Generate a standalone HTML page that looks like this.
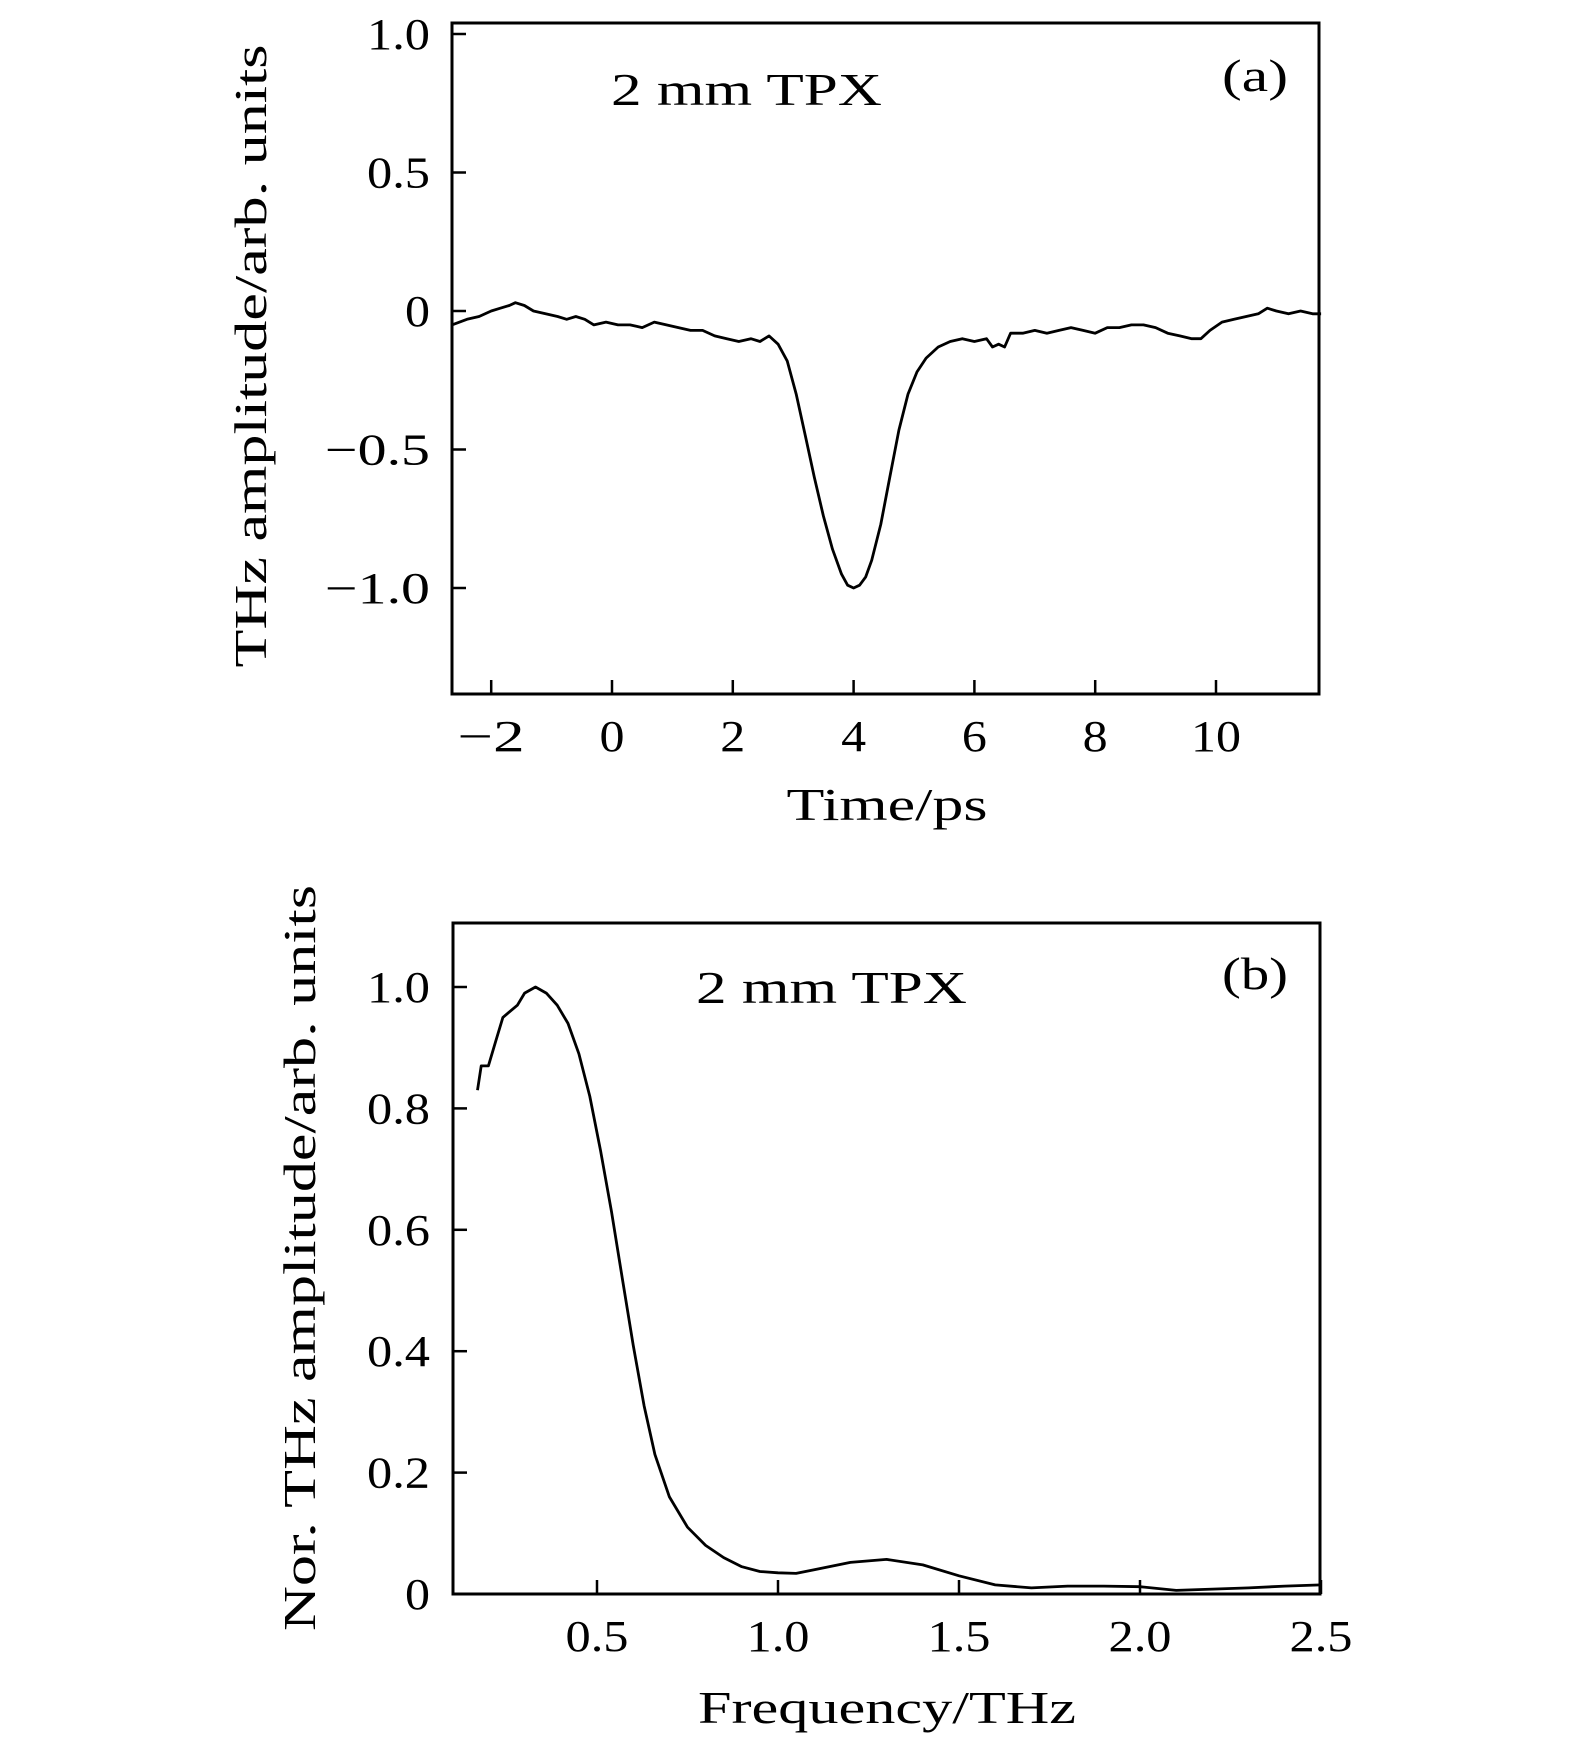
<!DOCTYPE html>
<html><head><meta charset="utf-8">
<style>
html,body{margin:0;padding:0;background:#fff;}
svg{display:block;}
text{font-family:"Liberation Serif",serif;fill:#000;}
</style></head>
<body>
<svg id="chart" width="1575" height="1742" viewBox="0 0 1575 1742" xmlns="http://www.w3.org/2000/svg">
<g id="pa"></g>
<g id="pb"></g>
</svg>
<script>
// Panel (a) data: time-domain waveform
const timeValues = [-2.65,-2.4,-2.2,-2.0,-1.85,-1.7,-1.6,-1.45,-1.3,-1.1,-0.9,-0.75,-0.6,-0.45,-0.3,-0.1,0.1,0.3,0.5,0.7,0.9,1.1,1.3,1.5,1.7,1.9,2.1,2.3,2.45,2.6,2.75,2.9,3.05,3.2,3.35,3.5,3.65,3.8,3.9,4.0,4.1,4.2,4.3,4.45,4.6,4.75,4.9,5.05,5.2,5.4,5.6,5.8,6.0,6.2,6.3,6.4,6.5,6.6,6.8,7.0,7.2,7.4,7.6,7.8,8.0,8.2,8.4,8.6,8.8,9.0,9.2,9.4,9.6,9.75,9.9,10.1,10.3,10.5,10.7,10.85,11.0,11.2,11.4,11.6,11.74];
const ampValues = [-0.05,-0.03,-0.02,0.0,0.01,0.02,0.03,0.02,0.0,-0.01,-0.02,-0.03,-0.02,-0.03,-0.05,-0.04,-0.05,-0.05,-0.06,-0.04,-0.05,-0.06,-0.07,-0.07,-0.09,-0.1,-0.11,-0.1,-0.11,-0.09,-0.12,-0.18,-0.3,-0.45,-0.6,-0.74,-0.86,-0.95,-0.99,-1.0,-0.99,-0.96,-0.9,-0.77,-0.6,-0.43,-0.3,-0.22,-0.17,-0.13,-0.11,-0.1,-0.11,-0.1,-0.13,-0.12,-0.13,-0.08,-0.08,-0.07,-0.08,-0.07,-0.06,-0.07,-0.08,-0.06,-0.06,-0.05,-0.05,-0.06,-0.08,-0.09,-0.1,-0.1,-0.07,-0.04,-0.03,-0.02,-0.01,0.01,0.0,-0.01,0.0,-0.01,-0.01];
const aXTicks = [-2,0,2,4,6,8,10];
const aXLabels = ["\u22122","0","2","4","6","8","10"];
const aYTicks = [1.0,0.5,0,-0.5,-1.0];
const aYLabels = ["1.0","0.5","0","\u22120.5","\u22121.0"];

// Panel (b) data: normalized spectrum
const freqValues = [0.17,0.18,0.2,0.22,0.24,0.26,0.28,0.3,0.33,0.36,0.39,0.42,0.45,0.48,0.51,0.54,0.57,0.6,0.63,0.66,0.7,0.75,0.8,0.85,0.9,0.95,1.0,1.05,1.1,1.2,1.3,1.4,1.5,1.6,1.7,1.8,1.9,2.0,2.1,2.2,2.3,2.4,2.5];
const specValues = [0.83,0.87,0.87,0.91,0.95,0.96,0.97,0.99,1.0,0.99,0.97,0.94,0.89,0.82,0.73,0.63,0.52,0.41,0.31,0.23,0.16,0.11,0.08,0.06,0.045,0.037,0.035,0.034,0.04,0.052,0.057,0.048,0.03,0.015,0.01,0.013,0.013,0.012,0.006,0.008,0.01,0.013,0.015];
const bXTicks = [0.5,1.0,1.5,2.0,2.5];
const bXLabels = ["0.5","1.0","1.5","2.0","2.5"];
const bYTicks = [0,0.2,0.4,0.6,0.8,1.0];
const bYLabels = ["0","0.2","0.4","0.6","0.8","1.0"];

const NS = "http://www.w3.org/2000/svg";
function mk(parent, tag, attrs, text){
  const e = document.createElementNS(NS, tag);
  for (const k in attrs) e.setAttribute(k, attrs[k]);
  if (text !== undefined) e.textContent = text;
  parent.appendChild(e);
  return e;
}
function labelWidth(s){
  let w = 0;
  for (const c of s) w += (c === '.') ? 13 : (c === '\u2212' ? 42 : 25);
  return w;
}
const ADJ = 'spacingAndGlyphs';

function drawPanel(g, cfg){
  const sx = v => cfg.x0px + (v - cfg.xv0) * cfg.xs;
  const sy = v => cfg.y0px - (v - cfg.yv0) * cfg.ys;
  const fr = mk(g, 'rect', {x:cfg.L, y:cfg.T, width:cfg.R-cfg.L, height:cfg.B-cfg.T, fill:'none', stroke:'#000', 'stroke-width':3});
  
  
  cfg.xTicks.forEach((t,i)=>{
    const x = sx(t);
    const tk = mk(g, 'line', {x1:x, x2:x, y1:cfg.B, y2:cfg.B-14, stroke:'#000', 'stroke-width':2.5});
    
    
    const s = cfg.xLabels[i];
    const lb = mk(g, 'text', {x:x, y:cfg.xLabelY, 'text-anchor':'middle', 'font-size':44, textLength:labelWidth(s), lengthAdjust:ADJ}, s);
    
    
  });
  cfg.yTicks.forEach((t,i)=>{
    const y = sy(t);
    const tk = mk(g, 'line', {x1:cfg.L, x2:cfg.L+14, y1:y, y2:y, stroke:'#000', 'stroke-width':2.5});
    
    
    const s = cfg.yLabels[i];
    const lb = mk(g, 'text', {x:430, y:y+15, 'text-anchor':'end', 'font-size':44, textLength:labelWidth(s), lengthAdjust:ADJ}, s);
    
    
  });
  let d = '';
  cfg.xs_.forEach((v,i)=>{ d += (i?'L':'M') + sx(v).toFixed(1) + ',' + sy(cfg.ys_[i]).toFixed(1); });
  const p = mk(g, 'path', {d:d, fill:'none', stroke:'#000', 'stroke-width':2.8, 'stroke-linejoin':'round'});
  
  
  const xt = mk(g, 'text', {x:887, y:cfg.xTitleY, 'text-anchor':'middle', 'font-size':46, textLength:cfg.xTitleW, lengthAdjust:ADJ}, cfg.xTitle);
  
  
  const yt = mk(g, 'text', {x:0, y:0, 'text-anchor':'middle', 'font-size':46, textLength:cfg.yTitleW, lengthAdjust:ADJ, transform:'translate('+cfg.yTitleX+','+cfg.yTitleCY+') rotate(-90)'}, cfg.yTitle);
  
  
  const an = mk(g, 'text', {x:cfg.annX, y:cfg.annY, 'font-size':46, textLength:271, lengthAdjust:ADJ}, '2 mm TPX');
  
  
  const pl = mk(g, 'text', {x:1222, y:cfg.annY-14, 'font-size':46, textLength:66, lengthAdjust:ADJ}, cfg.panelLabel);
  
  
}

drawPanel(document.getElementById('pa'), {
  L:452, R:1319, T:23, B:694,
  x0px:612, xv0:0, xs:60.4,
  y0px:311, yv0:0, ys:277,
  xTicks:aXTicks, xLabels:aXLabels, yTicks:aYTicks, yLabels:aYLabels,
  xLabelY:751, xTitleY:820, xTitle:'Time/ps', xTitleW:201,
  yTitleX:266, yTitleCY:356, yTitle:'THz amplitude/arb. units', yTitleW:623,
  annX:611, annY:105, panelLabel:'(a)',
  xs_:timeValues, ys_:ampValues
});
drawPanel(document.getElementById('pb'), {
  L:453, R:1320, T:923, B:1594,
  x0px:597, xv0:0.5, xs:362,
  y0px:1594, yv0:0, ys:607,
  xTicks:bXTicks, xLabels:bXLabels, yTicks:bYTicks, yLabels:bYLabels,
  xLabelY:1651, xTitleY:1723, xTitle:'Frequency/THz', xTitleW:378,
  yTitleX:315, yTitleCY:1258, yTitle:'Nor. THz amplitude/arb. units', yTitleW:746,
  annX:696, annY:1003, panelLabel:'(b)',
  xs_:freqValues, ys_:specValues
});
</script>
</body></html>
